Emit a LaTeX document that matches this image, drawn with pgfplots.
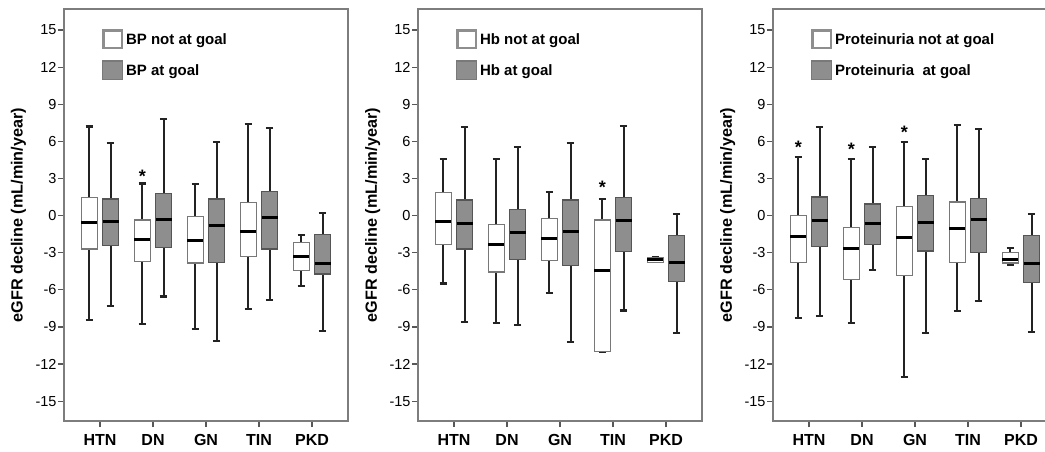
\documentclass[border=0pt]{standalone}
\usepackage{fontspec}
\setmainfont{Liberation Sans}
\usepackage{pgfplots}
\pgfplotsset{compat=1.18}
\usepgfplotslibrary{statistics}
\definecolor{boxgray}{RGB}{142,142,142}
\definecolor{boxedge}{RGB}{85,85,85}
\definecolor{framegray}{RGB}{125,125,125}
\definecolor{wedge}{RGB}{120,120,120}
\definecolor{whiskcol}{RGB}{35,35,35}

\pgfplotsset{
  panel/.style={
    scale only axis, width=284pt, height=412pt,
    xmin=-0.68, xmax=4.68, ymin=-16.6, ymax=16.7,
    xtick={0,1,2,3,4}, xticklabels={HTN,DN,GN,TIN,PKD},
    ytick={-15,-12,-9,-6,-3,0,3,6,9,12,15},
    yticklabels={-15,-12,-9,-6,-3,0,3,6,9,12,15},
    tick pos=left, tick align=outside, major tick length=6pt,
    axis line style={framegray, line width=1.4pt},
    tick style={framegray!70!black, line width=1.2pt},
    x tick label style={font=\bfseries\fontsize{16}{16}\selectfont, yshift=-4pt},
    y tick label style={font=\fontsize{14.5}{14.5}\selectfont, xshift=2pt},
    every axis y label/.style={at={(axis description cs:-0.16,0.5)}, rotate=90, anchor=center,
      font=\bfseries\fontsize{16.2}{16.2}\selectfont},
    ylabel={eGFR decline (mL/min/year)},
    boxplot/draw direction=y,
    boxplot/box extend=0.3, boxplot/whisker extend=0.14,
    legend style={at={(axis description cs:0.134,0.951)}, anchor=north west, draw=none, fill=none,
      font=\bfseries\fontsize{15}{15}\selectfont, row sep=11pt, inner sep=0pt,
      nodes={inner sep=2.8pt}},
    legend cell align=left,
  },
  wbox/.style={forget plot, draw=wedge, fill=white,
    boxplot/every box/.style={draw=wedge, fill=white, line width=1.3pt},
    boxplot/every whisker/.style={draw=whiskcol, line width=2.1pt},
    boxplot/every median/.style={draw=black, line width=3pt}},
  gbox/.style={forget plot, draw=boxedge, fill=boxgray,
    boxplot/every box/.style={draw=boxedge, fill=boxgray, line width=1.3pt},
    boxplot/every whisker/.style={draw=whiskcol, line width=2.1pt},
    boxplot/every median/.style={draw=black, line width=3pt}},
  star/.style={forget plot, only marks, mark=text,
    text mark={\bfseries\fontsize{18}{18}\selectfont *},
    mark options={yshift=-3.5pt}},
}
\newcommand{\bx}[7]{\addplot[#1, boxplot prepared={draw position=#2, lower whisker=#3,
  lower quartile=#4, median=#5, upper quartile=#6, upper whisker=#7}] coordinates {};}
\newcommand{\legimgs}{%
  \addlegendimage{legend image code/.code={\draw[draw=boxgray, line width=2.6pt, fill=white] (1.3pt,-8.7pt) rectangle (19.7pt,8.7pt);}}
}
\newcommand{\legimgg}{%
  \addlegendimage{legend image code/.code={\draw[draw=boxgray!85!black, line width=1.2pt, fill=boxgray] (0.6pt,-9.4pt) rectangle (20.4pt,9.4pt);}}
}

\begin{document}
\begin{tikzpicture}
\useasboundingbox (0,0) rectangle (1045pt,451pt);
\clip (0,0) rectangle (1045pt,451pt);

% Panel 1: BP
\begin{axis}[panel, at={(64pt,30pt)}, anchor=south west]
\legimgs \addlegendentry{BP not at goal}
\legimgg \addlegendentry{BP at goal}
\bx{wbox}{-0.2}{-8.46}{-2.70}{-0.54}{1.49}{7.20}
\bx{gbox}{0.2}{-7.30}{-2.43}{-0.46}{1.35}{5.90}
\bx{wbox}{0.8}{-8.78}{-3.73}{-1.92}{-0.35}{2.60}
\bx{gbox}{1.2}{-6.54}{-2.57}{-0.35}{1.76}{7.78}
\bx{wbox}{1.8}{-9.14}{-3.84}{-2.03}{-0.08}{2.57}
\bx{gbox}{2.2}{-10.14}{-3.78}{-0.76}{1.35}{5.92}
\bx{wbox}{2.8}{-7.57}{-3.30}{-1.27}{1.08}{7.38}
\bx{gbox}{3.2}{-6.81}{-2.70}{-0.14}{1.97}{7.08}
\bx{wbox}{3.8}{-5.70}{-4.46}{-3.27}{-2.16}{-1.54}
\bx{gbox}{4.2}{-9.32}{-4.73}{-3.86}{-1.54}{0.24}
\addplot[star] coordinates {(0.8,3.5)};
\end{axis}

% Panel 2: Hb
\begin{axis}[panel, at={(418pt,30pt)}, anchor=south west]
\legimgs \addlegendentry{Hb not at goal}
\legimgg \addlegendentry{Hb at goal}
\bx{wbox}{-0.2}{-5.49}{-2.35}{-0.47}{1.89}{4.57}
\bx{gbox}{0.2}{-8.60}{-2.70}{-0.66}{1.27}{7.16}
\bx{wbox}{0.8}{-8.70}{-4.55}{-2.32}{-0.74}{4.57}
\bx{gbox}{1.2}{-8.87}{-3.57}{-1.34}{0.51}{5.55}
\bx{wbox}{1.8}{-6.25}{-3.62}{-1.85}{-0.24}{1.88}
\bx{gbox}{2.2}{-10.20}{-4.02}{-1.31}{1.26}{5.90}
\bx{wbox}{2.8}{-11.00}{-11.00}{-4.42}{-0.35}{1.37}
\bx{gbox}{3.2}{-7.67}{-2.90}{-0.43}{1.45}{7.27}
\bx{wbox}{3.8}{-3.77}{-3.77}{-3.57}{-3.37}{-3.37}
\bx{gbox}{4.2}{-9.46}{-5.30}{-3.77}{-1.60}{0.14}
\addplot[star] coordinates {(2.8,2.6)};
\end{axis}

% Panel 3: Proteinuria
\begin{axis}[panel, at={(773pt,30pt)}, anchor=south west]
\legimgs \addlegendentry{Proteinuria not at goal}
\legimgg \addlegendentry{Proteinuria\ \ at goal}
\bx{wbox}{-0.2}{-8.28}{-3.81}{-1.72}{0.00}{4.72}
\bx{gbox}{0.2}{-8.10}{-2.47}{-0.43}{1.50}{7.18}
\bx{wbox}{0.8}{-8.69}{-5.15}{-2.68}{-0.94}{4.58}
\bx{gbox}{1.2}{-4.40}{-2.33}{-0.64}{0.94}{5.58}
\bx{wbox}{1.8}{-13.06}{-4.83}{-1.80}{0.75}{5.92}
\bx{gbox}{2.2}{-9.52}{-2.87}{-0.59}{1.61}{4.56}
\bx{wbox}{2.8}{-7.70}{-3.81}{-1.02}{1.10}{7.29}
\bx{gbox}{3.2}{-6.89}{-3.00}{-0.35}{1.37}{7.00}
\bx{wbox}{3.8}{-3.95}{-3.82}{-3.57}{-3.00}{-2.60}
\bx{gbox}{4.2}{-9.40}{-5.38}{-3.90}{-1.59}{0.16}
\addplot[star] coordinates {(-0.2,5.84) (0.8,5.66) (1.8,7.05)};
\end{axis}
\end{tikzpicture}
\end{document}
